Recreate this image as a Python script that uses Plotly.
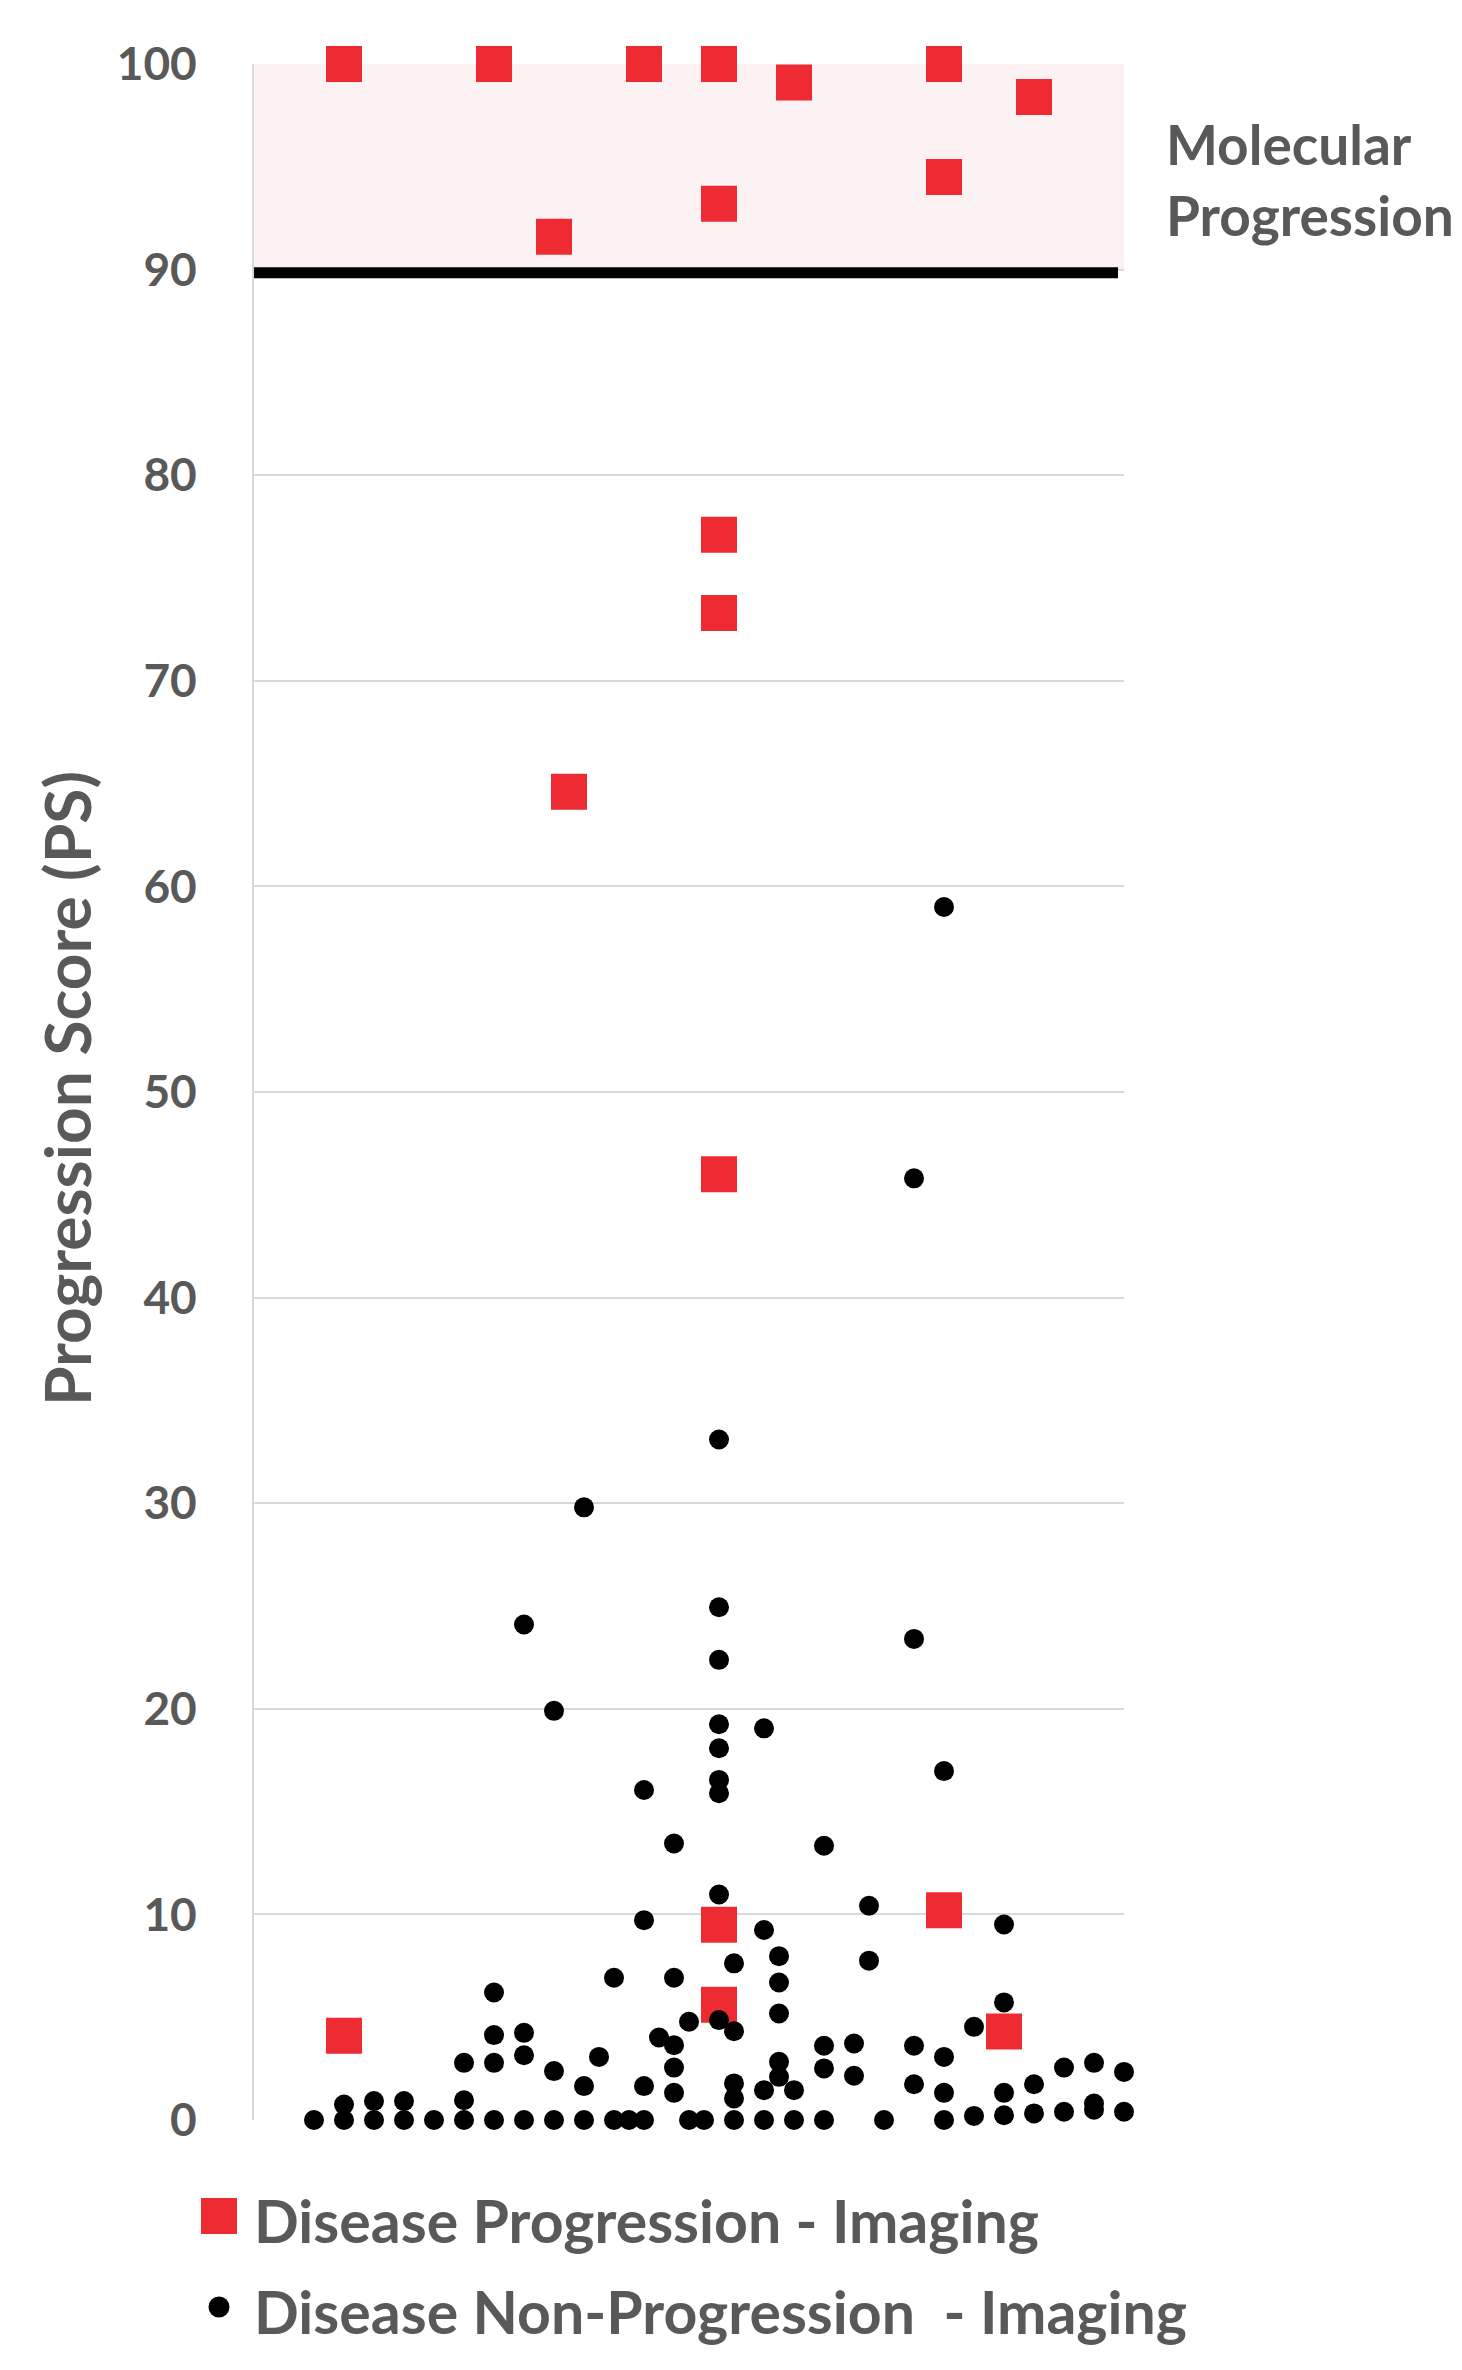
import plotly.graph_objects as go

# ---- data ----
Y_TICKS = [0, 10, 20, 30, 40, 50, 60, 70, 80, 90, 100]
THRESHOLD = 90      # molecular progression cut-off
X_MAX = 29          # patients spread along a hidden x axis

# Disease progression (imaging) - red squares
PROG_X = [3, 8, 13, 15.5, 18, 23, 26, 23, 15.5, 10,
          15.5, 15.5, 10.5, 15.5, 15.5, 15.5, 23, 25, 3]
PROG_Y = [100, 100, 100, 100, 99.1, 100, 98.4, 94.5, 93.2, 91.6,
          77.1, 73.3, 64.6, 46.0, 9.5, 5.6, 10.2, 4.3, 4.1]

# Disease non-progression (imaging) - black dots
NONPROG_X = [2,
             3, 3,
             4, 4,
             5, 5,
             6,
             7, 7, 7,
             8, 8, 8, 8,
             9, 9, 9, 9,
             10, 10, 10,
             11, 11, 11,
             11.5,
             12, 12,
             12.5,
             13, 13, 13, 13,
             13.5,
             14, 14, 14, 14, 14,
             14.5, 14.5,
             15,
             15.5, 15.5, 15.5, 15.5, 15.5, 15.5, 15.5, 15.5, 15.5,
             16, 16, 16, 16, 16,
             17, 17, 17, 17,
             17.5, 17.5, 17.5, 17.5, 17.5,
             18, 18,
             19, 19, 19, 19,
             20, 20,
             20.5, 20.5,
             21,
             22, 22, 22, 22,
             23, 23, 23, 23, 23,
             24, 24,
             25, 25, 25, 25,
             26, 26,
             27, 27,
             28, 28, 28,
             29, 29]
NONPROG_Y = [0,
             0, 0.75,
             0, 0.92,
             0, 0.92,
             0,
             0, 0.96, 2.78,
             0, 2.78, 4.13, 6.2,
             0, 3.15, 4.24, 24.1,
             0, 2.38, 19.9,
             0, 1.65, 29.8,
             3.07,
             0, 6.92,
             0,
             0, 1.65, 9.72, 16.05,
             4.01,
             1.32, 2.55, 3.64, 6.92, 13.45,
             0, 4.78,
             0,
             4.86, 10.97, 15.89, 16.54, 18.08, 19.25, 22.38, 24.94, 33.1,
             0, 1.05, 1.78, 4.32, 7.62,
             0, 1.45, 9.24, 19.05,
             2.1, 2.83, 5.18, 6.69, 7.97,
             0, 1.45,
             0, 2.51, 3.61, 13.34,
             2.15, 3.72,
             7.75, 10.42,
             0,
             1.74, 3.61, 23.4, 45.8,
             0, 1.32, 3.07, 16.97, 59.0,
             0.2, 4.53,
             0.23, 1.32, 5.72, 9.51,
             0.32, 1.74,
             0.4, 2.55,
             0.5, 0.8, 2.78,
             0.4, 2.34]

LEGEND_LABELS = ["Disease Progression - Imaging",
                 "Disease Non-Progression  - Imaging"]

RED = "#EE2A32"
BLACK = "#000000"
GRAY = "#595959"
GRID = "#D9D9D9"
BAND = "#FDF2F3"
FONT = "Lato, 'Noto Sans', sans-serif"

W, H = 1462, 2370
ML, MR, MT, MB = 246, 346, 56, 258
PW, PH = W - ML - MR, H - MT - MB


def paper_x(px):
    return (px - ML) / PW


def paper_y(py):
    return (H - MB - py) / PH


fig = go.Figure()

fig.add_trace(go.Scatter(
    x=PROG_X, y=PROG_Y, mode="markers", name=LEGEND_LABELS[0],
    marker=dict(symbol="square", size=36, color=RED, line=dict(width=0)),
    cliponaxis=False,
))
fig.add_trace(go.Scatter(
    x=NONPROG_X, y=NONPROG_Y, mode="markers", name=LEGEND_LABELS[1],
    marker=dict(symbol="circle", size=20, color=BLACK, line=dict(width=0)),
    cliponaxis=False,
))

# shaded molecular progression band and the cut-off line
fig.add_shape(type="rect", xref="x", yref="y", x0=0, x1=X_MAX,
              y0=THRESHOLD, y1=100, fillcolor=BAND, line=dict(width=0),
              layer="below")
fig.add_shape(type="line", xref="x", yref="y", x0=0, x1=X_MAX - 0.2,
              y0=THRESHOLD - 0.15, y1=THRESHOLD - 0.15,
              line=dict(color=BLACK, width=11), layer="between")

# band label
for text, cy in [("Molecular", 136), ("Progression", 207)]:
    fig.add_annotation(text=text, xref="paper", yref="paper",
                       x=paper_x(1156), y=paper_y(cy), xanchor="left",
                       yanchor="middle", showarrow=False,
                       font=dict(size=55, color=GRAY, family=FONT,
                                 weight="bold"))

# y axis title
fig.add_annotation(text="Progression Score (PS)", xref="paper", yref="paper",
                   x=paper_x(58), y=paper_y(1081), textangle=-90,
                   xanchor="center", yanchor="middle", showarrow=False,
                   font=dict(size=64, color=GRAY, family=FONT, weight="bold"))

# hand-made legend (plotly caps legend symbol sizes)
legend_rows = [(2208, "square", 36, RED), (2299, "circle", 21, BLACK)]
for (cy, sym, sz, col), label in zip(legend_rows, LEGEND_LABELS):
    half = sz / 2
    fig.add_shape(type="rect" if sym == "square" else "circle",
                  xref="paper", yref="paper",
                  xsizemode="pixel", ysizemode="pixel",
                  xanchor=paper_x(211), yanchor=paper_y(cy),
                  x0=-half, x1=half, y0=-half, y1=half,
                  fillcolor=col, line=dict(width=0))
    fig.add_annotation(text=label, xref="paper", yref="paper",
                       x=paper_x(244), y=paper_y(cy + 4), xanchor="left",
                       yanchor="middle", showarrow=False,
                       font=dict(size=59, color=GRAY, family=FONT,
                                 weight="bold"))

fig.update_layout(
    width=W, height=H,
    margin=dict(l=ML, r=MR, t=MT, b=MB),
    plot_bgcolor="white", paper_bgcolor="white",
    showlegend=False,
    font=dict(family=FONT, color=GRAY),
)
fig.update_xaxes(range=[0, X_MAX], visible=False)
fig.update_yaxes(
    range=[0, 100], tickvals=Y_TICKS,
    showgrid=True, gridcolor=GRID, gridwidth=2,
    zeroline=False, showline=True, linecolor=GRID, linewidth=2,
    ticks="", ticklabelstandoff=46,
    tickfont=dict(size=46, color=GRAY, family=FONT, weight="bold"),
)

fig.write_html("out.html")
